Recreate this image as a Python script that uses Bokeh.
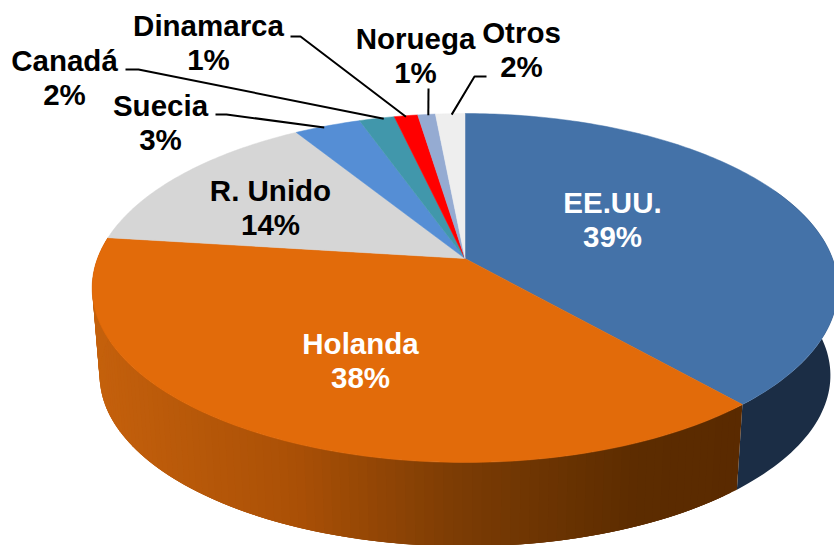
import math
from bokeh.plotting import figure
from bokeh.models import Range1d
from bokeh.core.properties import value
from bokeh.embed import file_html
from bokeh.resources import INLINE

# Data
names = ["EE.UU.", "Holanda", "R. Unido", "Suecia", "Canadá", "Dinamarca", "Noruega", "Otros"]
shares = [38.55, 38.45, 14.2, 3.4, 1.8, 1.2, 0.9, 1.5]
pct_labels = ["39%", "38%", "14%", "3%", "2%", "1%", "1%", "2%"]
colors = ["#4472A8", "#E26B0A", "#D6D6D6", "#558ED5", "#4197AB", "#FF0000", "#95ABD2", "#EEEEEE"]

# Layout (pixels of the reference)
CX, CY, A, B, K = 464.5, 258.0, 367.5, 169.5, 0.169
S, CY2 = 0.98, 346.0
label_pos = {"EE.UU.": (612, 202), "Holanda": (360, 343), "R. Unido": (270, 190), "Suecia": (160, 105),
             "Canadá": (64, 60), "Dinamarca": (208, 25), "Noruega": (415, 38), "Otros": (521, 32)}
line_gap = 34
leader_elbows = {"Suecia": [(215, 114), (226, 114)], "Canadá": [(125, 69), (138, 69)],
                 "Dinamarca": [(290, 36), (300, 36)], "Noruega": [(428, 88)], "Otros": [(486, 76), (474, 76)]}
leader_frac = {"Suecia": 0.45, "Canadá": 0.7, "Dinamarca": 0.5, "Noruega": 0.6, "Otros": 0.55}
white_labels = {"EE.UU.", "Holanda"}


def top(frac):
    t = 2 * math.pi * frac
    u, v = math.sin(t), math.cos(t)
    d = 1 + K * v
    return CX + A * u / d, CY - B * v / d


def bot(frac):
    x, y = top(frac)
    return CX + S * (x - CX), CY2 + S * (y - CY)


def mix(c1, c2, t):
    return "#%02x%02x%02x" % tuple(round(a + (b - a) * t) for a, b in zip(c1, c2))


stops = [(100, (196, 96, 12)), (300, (170, 80, 6)), (460, (124, 60, 4)), (640, (92, 44, 0)), (740, (90, 42, 0))]


def wall_orange(x):
    for (x0, c0), (x1, c1) in zip(stops, stops[1:]):
        if x <= x1:
            return mix(c0, c1, max(0, (x - x0) / (x1 - x0)))
    return "#%02x%02x%02x" % stops[-1][1]


p = figure(width=834, height=545, x_range=Range1d(0, 834), y_range=Range1d(545, 0),
           output_backend="svg", toolbar_location=None, min_border=0, outline_line_color=None,
           background_fill_color="white", border_fill_color="white")
p.xaxis.visible = False
p.yaxis.visible = False
p.grid.visible = False

cum = [0.0]
for s in shares:
    cum.append(cum[-1] + s / sum(shares))

# Side wall of the first slice: one polygon
n = 60
fr = [0.18 + (cum[1] - 0.18) * i / n for i in range(n + 1)]
pts = [top(f) for f in fr] + [bot(f) for f in reversed(fr)]
p.patch([q[0] for q in pts], [q[1] for q in pts], fill_color="#1B2D45", line_color=None)

# Side wall of the second slice: overlapping strips, painted in order
xs, ys, cs = [], [], []
n = 110
span = cum[2] - cum[1]
for i in range(n):
    f0 = cum[1] + span * i / n
    f1 = min(cum[2], cum[1] + span * (i + 3) / n)
    a0, a1, b1, b0 = top(f0), top(f1), bot(f1), bot(f0)
    xs.append([a0[0], a1[0], b1[0], b0[0]])
    ys.append([a0[1], a1[1], b1[1], b0[1]])
    cs.append(wall_orange((a0[0] + b0[0]) / 2))
p.patches(xs, ys, fill_color=cs, line_color=None)

# Top faces
xs, ys = [], []
for i in range(len(shares)):
    n = max(4, int(shares[i] * 4))
    pts = [top(cum[i] + (cum[i + 1] - cum[i]) * j / n) for j in range(n + 1)]
    xs.append([CX] + [q[0] for q in pts])
    ys.append([CY] + [q[1] for q in pts])
p.patches(xs, ys, fill_color=colors, line_color=colors, line_width=0.5)

# Leader lines
for name, elbow in leader_elbows.items():
    i = names.index(name)
    end = top(cum[i] + (cum[i + 1] - cum[i]) * leader_frac[name])
    pts = elbow + [(end[0], end[1] + 1)]
    p.line([q[0] for q in pts], [q[1] for q in pts], line_color="black", line_width=2)

# Labels
for name, pct in zip(names, pct_labels):
    x, y = label_pos[name]
    col = "white" if name in white_labels else "black"
    p.text([x, x], [y, y + line_gap], text=[name, pct], text_font=value("Liberation Sans"),
           text_font_style="bold", text_font_size="29.5px", text_color=col,
           text_align="center", text_baseline="middle")

open("out.html", "w").write(file_html(p, INLINE))
